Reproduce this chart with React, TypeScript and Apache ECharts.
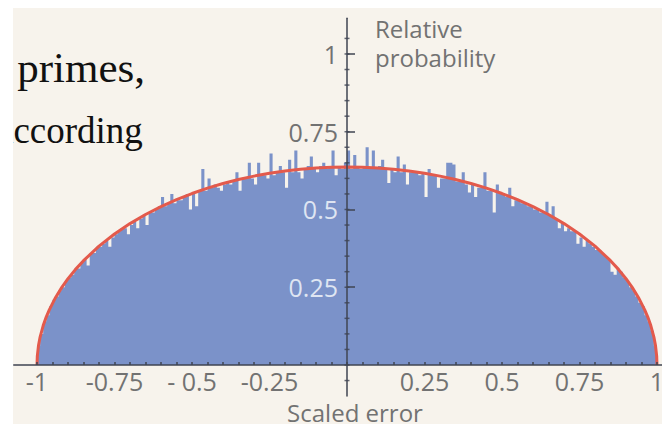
import React, { useEffect, useRef } from "react";
import * as echarts from "echarts";

// Histogram of scaled errors: 200 bins of width 0.01 from -1 to 1
const binStart = -1;
const binWidth = 0.01;
const histValues = [
  0.06, 0.10, 0.14, 0.16, 0.19, 0.21, 0.22, 0.24, 0.25, 0.27,
  0.28, 0.29, 0.31, 0.31, 0.33, 0.34, 0.32, 0.36, 0.36, 0.38,
  0.38, 0.39, 0.40, 0.38, 0.41, 0.42, 0.43, 0.44, 0.44, 0.42,
  0.45, 0.46, 0.44, 0.47, 0.48, 0.45, 0.49, 0.49, 0.50, 0.51,
  0.54, 0.51, 0.52, 0.55, 0.52, 0.53, 0.53, 0.54, 0.55, 0.50,
  0.55, 0.51, 0.56, 0.63, 0.56, 0.60, 0.57, 0.58, 0.57, 0.56,
  0.58, 0.59, 0.58, 0.59, 0.62, 0.56, 0.60, 0.60, 0.65, 0.60,
  0.58, 0.65, 0.61, 0.61, 0.60, 0.68, 0.61, 0.62, 0.64, 0.62,
  0.57, 0.66, 0.62, 0.69, 0.62, 0.60, 0.63, 0.64, 0.67, 0.63,
  0.62, 0.64, 0.65, 0.63, 0.64, 0.69, 0.61, 0.64, 0.63, 0.65,
  0.69, 0.63, 0.675, 0.64, 0.63, 0.64, 0.70, 0.63, 0.69, 0.63,
  0.64, 0.66, 0.63, 0.585, 0.63, 0.62, 0.67, 0.62, 0.645, 0.58,
  0.62, 0.62, 0.62, 0.61, 0.62, 0.54, 0.63, 0.61, 0.61, 0.57,
  0.60, 0.60, 0.65, 0.65, 0.645, 0.59, 0.59, 0.62, 0.58, 0.555,
  0.58, 0.54, 0.57, 0.57, 0.62, 0.56, 0.56, 0.49, 0.58, 0.55,
  0.55, 0.54, 0.57, 0.51, 0.53, 0.53, 0.52, 0.52, 0.51, 0.51,
  0.50, 0.50, 0.49, 0.49, 0.525, 0.48, 0.51, 0.47, 0.44, 0.46,
  0.43, 0.44, 0.43, 0.43, 0.39, 0.41, 0.38, 0.40, 0.39, 0.38,
  0.37, 0.37, 0.36, 0.35, 0.34, 0.30, 0.29, 0.31, 0.30, 0.28,
  0.27, 0.25, 0.24, 0.22, 0.20, 0.19, 0.16, 0.14, 0.11, 0.06,
];

// Theoretical (semicircle) curve, read as points
const curveX = [
  -1, -0.999, -0.995, -0.99, -0.98, -0.97, -0.96, -0.94, -0.92, -0.9, -0.875, -0.85,
  -0.8, -0.75, -0.7, -0.65, -0.6, -0.55, -0.5, -0.45, -0.4, -0.35, -0.3, -0.25, -0.2,
  -0.15, -0.1, -0.05, 0,
  0.05, 0.1, 0.15, 0.2, 0.25, 0.3, 0.35, 0.4, 0.45, 0.5, 0.55, 0.6, 0.65, 0.7, 0.75,
  0.8, 0.85, 0.875, 0.9, 0.92, 0.94, 0.96, 0.97, 0.98, 0.99, 0.995, 0.999, 1,
];
const curveY = [
  0, 0.0285, 0.0636, 0.0898, 0.1267, 0.1548, 0.1782, 0.2172, 0.2495, 0.2775, 0.3082, 0.3353,
  0.382, 0.4211, 0.4546, 0.4838, 0.5093, 0.5317, 0.5513, 0.5685, 0.5835, 0.5963, 0.6073, 0.6164, 0.6237,
  0.6294, 0.6334, 0.6358, 0.6366,
  0.6358, 0.6334, 0.6294, 0.6237, 0.6164, 0.6073, 0.5963, 0.5835, 0.5685, 0.5513, 0.5317, 0.5093, 0.4838, 0.4546, 0.4211,
  0.382, 0.3353, 0.3082, 0.2775, 0.2495, 0.2172, 0.1782, 0.1548, 0.1267, 0.0898, 0.0636, 0.0285, 0,
];

const xTickValues = [-1, -0.75, -0.5, -0.25, 0.25, 0.5, 0.75, 1];
const xTickLabels = ["-1", "-0.75", "- 0.5", "-0.25", "0.25", "0.5", "0.75", "1"];
const yTickValues = [0.25, 0.5, 0.75, 1];
const yTickLabels = ["0.25", "0.5", "0.75", "1"];
const yTickOnFill = [true, true, false, false];
const xMinorTicks = Array.from({ length: 41 }, (_, i) => Math.round((-1 + i * 0.05) * 100) / 100);
const yMinorTicks = Array.from({ length: 23 }, (_, i) => Math.round((-0.05 + i * 0.05) * 100) / 100);

const axisColor = "#3f4452";
const labelColor = "#727272";
const fillColor = "#7b92c9";
const curveColor = "#e35a4c";
const sans = "'Open Sans', 'Noto Sans', sans-serif";
const serif = "'Liberation Serif', 'DejaVu Serif', serif";

// grid geometry (range of each axis)
const xMin = -1.075, xMax = 1.02, yMin = -0.1, yMax = 1.115;
const gridLeft = 13.75, gridWidth = 649.45, gridTop = 18.2, gridHeight = 377.9;
const yAxisOffset = -(gridWidth * (0 - xMin) / (xMax - xMin));
const xAxisOffset = -(gridHeight * (0 - yMin) / (yMax - yMin));

function findIdx(arr: number[], v: number) {
  return arr.findIndex((a) => Math.abs(a - v) < 1e-6);
}

export default function App() {
  const ref = useRef<HTMLDivElement>(null);
  useEffect(() => {
    document.body.style.margin = "0";
    if (!ref.current) return;
    const chart = echarts.init(ref.current, null, { renderer: "svg" });
    const histData: number[][] = histValues.map((v, i) => [binStart + i * binWidth, v]);
    histData.push([binStart + histValues.length * binWidth, histValues[histValues.length - 1]]);

    chart.setOption({
      animation: false,
      backgroundColor: "#f7f3ec",
      grid: {
        left: gridLeft,
        width: gridWidth,
        top: gridTop,
        height: gridHeight,
        containLabel: false,
        outerBoundsMode: "none",
      },
      xAxis: {
        type: "value",
        min: xMin,
        max: xMax,
        position: "bottom",
        offset: xAxisOffset,
        z: 4,
        splitLine: { show: false },
        axisLine: { onZero: false, lineStyle: { color: axisColor, width: 1.5 } },
        axisTick: {
          show: true,
          customValues: xMinorTicks,
          inside: true,
          length: 3,
          lineStyle: { color: axisColor, width: 1.5 },
        },
        axisLabel: {
          customValues: xTickValues,
          margin: 4,
          fontSize: 25,
          fontFamily: sans,
          color: labelColor,
          formatter: (v: number) => {
            const i = findIdx(xTickValues, v);
            return i >= 0 ? xTickLabels[i] : "";
          },
        },
      },
      yAxis: {
        type: "value",
        min: yMin,
        max: yMax,
        position: "left",
        offset: yAxisOffset,
        z: 4,
        splitLine: { show: false },
        axisLine: { onZero: false, lineStyle: { color: axisColor, width: 1.5 } },
        axisTick: {
          show: true,
          customValues: yTickValues,
          inside: true,
          length: 8,
          lineStyle: { color: axisColor, width: 1.5 },
        },
        axisLabel: {
          customValues: yTickValues,
          margin: 9,
          fontSize: 25,
          fontFamily: sans,
          formatter: (v: number) => {
            const i = findIdx(yTickValues, v);
            if (i < 0) return "";
            return `{${yTickOnFill[i] ? "l" : "d"}|${yTickLabels[i]}}`;
          },
          rich: {
            l: { color: "#dfe5f2", fontSize: 25, fontFamily: sans },
            d: { color: labelColor, fontSize: 25, fontFamily: sans },
          },
        },
      },
      series: [
        {
          type: "line",
          name: "histogram",
          step: "end",
          data: histData,
          symbol: "none",
          silent: true,
          z: 1,
          lineStyle: { width: 0, color: fillColor },
          areaStyle: { color: fillColor, opacity: 1 },
        },
        {
          type: "line",
          name: "curve",
          data: curveX.map((x, i) => [x, curveY[i]]),
          symbol: "none",
          silent: true,
          z: 2,
          lineStyle: { color: curveColor, width: 3 },
        },
        {
          type: "scatter",
          name: "minor",
          data: yMinorTicks.map((v) => [0, v]),
          symbol: "rect",
          symbolSize: [5, 1.5],
          silent: true,
          z: 5,
          itemStyle: { color: axisColor },
        },
      ],
      graphic: [
        {
          type: "text",
          x: 375,
          y: 28,
          z: 50,
          style: { text: "Relative", font: `24px ${sans}`, fill: labelColor, verticalAlign: "middle" },
        },
        {
          type: "text",
          x: 375,
          y: 57,
          z: 50,
          style: { text: "probability", font: `24px ${sans}`, fill: labelColor, verticalAlign: "middle" },
        },
        {
          type: "text",
          x: 355,
          y: 412,
          z: 50,
          style: { text: "Scaled error", font: `24px ${sans}`, fill: labelColor, align: "center", verticalAlign: "middle" },
        },
        {
          type: "text",
          x: -15,
          y: 67,
          z: 50,
          style: { text: "n primes,", font: `43px ${serif}`, fill: "#111", verticalAlign: "middle" },
        },
        {
          type: "text",
          x: -3,
          y: 130,
          z: 50,
          style: { text: "according", font: `37px ${serif}`, fill: "#111", verticalAlign: "middle" },
        },
        { type: "rect", z: 100, shape: { x: 0, y: 0, width: 662, height: 8 }, style: { fill: "#ffffff" } },
        { type: "rect", z: 100, shape: { x: 0, y: 0, width: 13, height: 424 }, style: { fill: "#ffffff" } },
      ],
    });
    return () => chart.dispose();
  }, []);
  return <div ref={ref} style={{ width: 662, height: 424 }} />;
}
